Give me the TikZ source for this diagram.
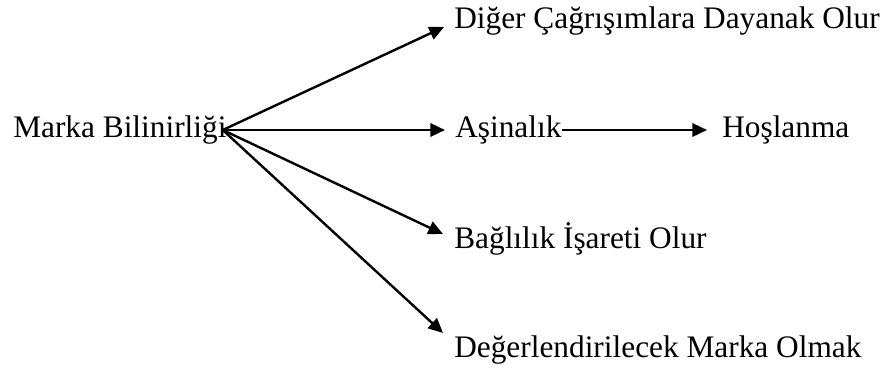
\documentclass[tikz,border=0pt]{standalone}
\usepackage{fontspec}
\setmainfont{Liberation Serif}
\usetikzlibrary{arrows.meta}

\begin{document}
\begin{tikzpicture}[x=0.75pt,y=-0.75pt,
		lbl/.style={inner sep=0pt,anchor=base west,font=\fontsize{23.5}{28}\selectfont},
		arr/.style={line width=1.8pt,-{Triangle[length=11pt,width=10pt]}}]
				\useasboundingbox (0,0) rectangle (892,369);
				%
				\node [lbl] (marka) at (13,137) {Marka Bilinirliği};
				\node [lbl] (diger) at (454,28) {Diğer Çağrışımlara Dayanak Olur};
				\node [lbl] (asina) at (455,137) {Aşinalık};
				\node [lbl] (hos) at (722,137) {Hoşlanma};
				\node [lbl] (bag) at (454,248) {Bağlılık İşareti Olur};
				\node [lbl] (deger) at (454,357) {Değerlendirilecek Marka Olmak};
				%
				\coordinate (src) at ([shift={(-4,-7)}]marka.base east);
				\draw [arr] (src) -- ([shift={(-10,-1)}]diger.base west);
				\draw [arr] (src) -- ([shift={(-10,-7)}]asina.base west);
				\draw [arr] (src) -- ([shift={(-11,-14)}]bag.base west);
				\draw [arr] (src) -- ([shift={(-11,-24)}]deger.base west);
				\draw [arr] ([shift={(0,-7)}]asina.base east) -- ([shift={(-15,-7)}]hos.base west);
		
			\end{tikzpicture}
\end{document}
